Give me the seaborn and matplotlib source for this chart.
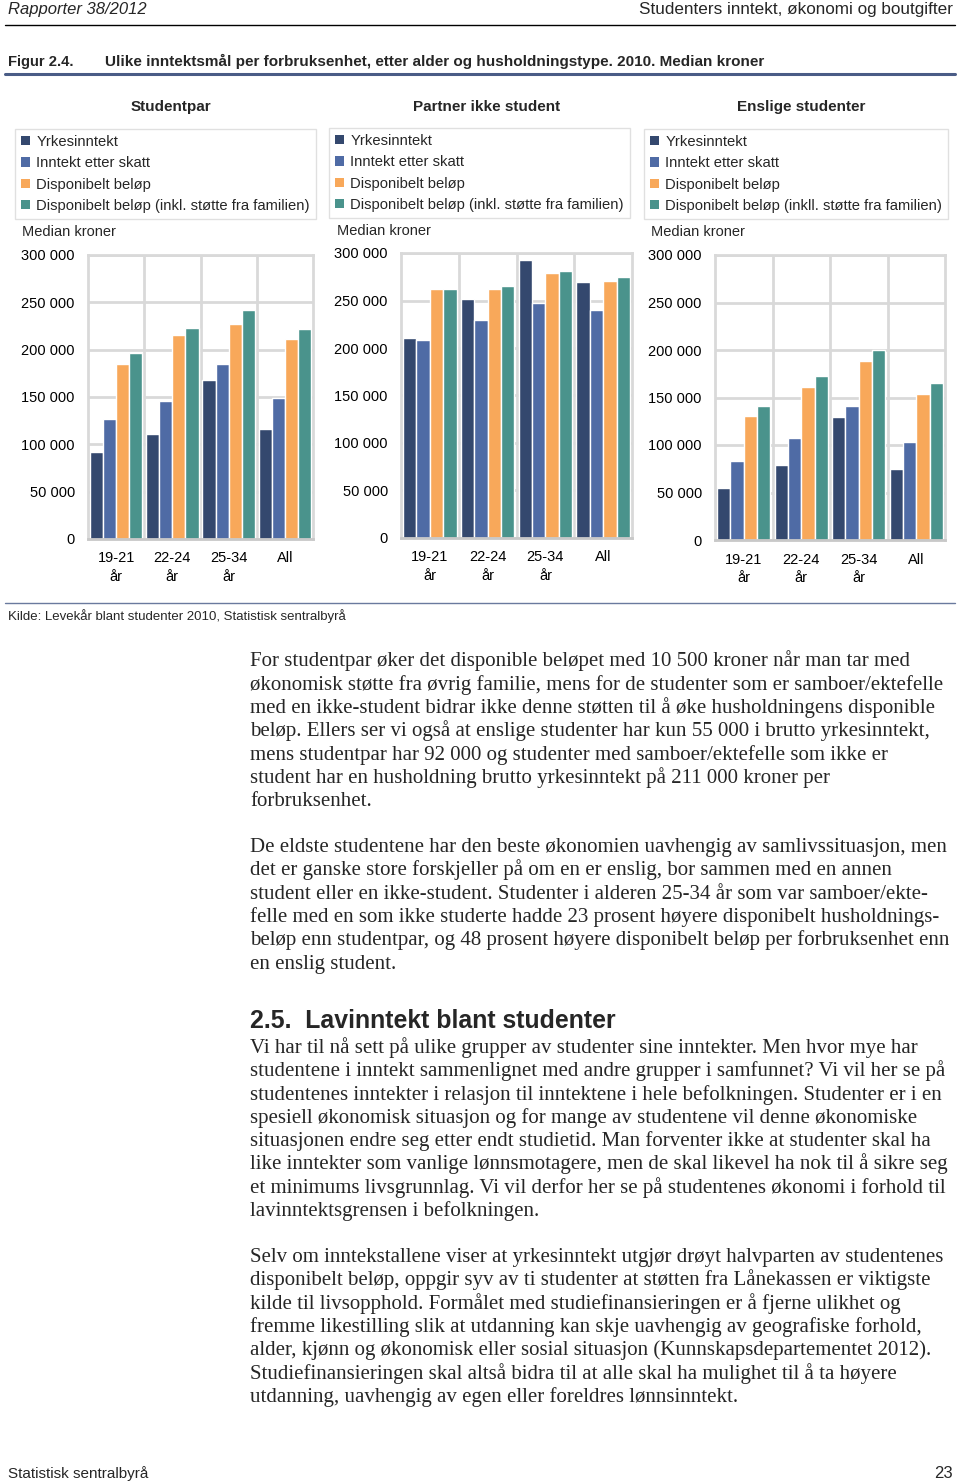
import numpy as np
import pandas as pd
import matplotlib
matplotlib.use("Agg")
import matplotlib.pyplot as plt
import seaborn as sns
from matplotlib.patches import Patch
from matplotlib.lines import Line2D
from matplotlib.ticker import FuncFormatter, FixedLocator

# ---------------- data ----------------
aldersgrupper = ["19-21\når", "22-24\når", "25-34\når", "All"]
maal = ["Yrkesinntekt", "Inntekt etter skatt", "Disponibelt beløp",
        "Disponibelt beløp (inkl. støtte fra familien)"]
maal_enslige = ["Yrkesinntekt", "Inntekt etter skatt", "Disponibelt beløp",
                "Disponibelt beløp (inkll. støtte fra familien)"]

studentpar_yrkes = [92000, 111000, 167500, 116500]
studentpar_etter_skatt = [126800, 145800, 185000, 148600]
studentpar_disp = [185000, 215500, 227000, 211000]
studentpar_disp_fam = [196800, 223000, 242000, 221500]

partner_yrkes = [211000, 252000, 292600, 269500]
partner_etter_skatt = [208400, 230000, 247700, 240000]
partner_disp = [262000, 262000, 279000, 271000]
partner_disp_fam = [262000, 265000, 281000, 275000]

enslige_yrkes = [55000, 78600, 129000, 74400]
enslige_etter_skatt = [83000, 107400, 140700, 103000]
enslige_disp = [130500, 161000, 188800, 153700]
enslige_disp_fam = [140700, 172600, 200000, 165000]

paneltitler = ["Studentpar", "Partner ikke student", "Enslige studenter"]
y_ticks = [0, 50000, 100000, 150000, 200000, 250000, 300000]

farger = ["#34486E", "#4F6BA5", "#F8A85A", "#4A938C"]

# ---------------- layout ----------------
W, H = 960, 1483
sans = ["Liberation Sans", "DejaVu Sans"]
serif = ["Liberation Serif", "DejaVu Serif"]

sns.set_theme(style="white")
plt.rcParams["font.family"] = sans

fig = plt.figure(figsize=(W / 100, H / 100), dpi=100)


def fx(x):
    return x / W


def fy(y):
    return 1 - y / H


def ax_rect(l, t, r, b):
    return [l / W, 1 - b / H, (r - l) / W, (b - t) / H]


def build_df(yrk, skatt, disp, fam, labels):
    rows = []
    for vals, m in zip([yrk, skatt, disp, fam], labels):
        for a, v in zip(aldersgrupper, vals):
            rows.append({"alder": a, "mal": m, "verdi": v})
    return pd.DataFrame(rows)


panels = [
    dict(df=build_df(studentpar_yrkes, studentpar_etter_skatt, studentpar_disp,
                     studentpar_disp_fam, maal),
         labels=maal, rect=(88, 255, 313, 539), title_x=171,
         leg=(15, 129), median=(22, 231)),
    dict(df=build_df(partner_yrkes, partner_etter_skatt, partner_disp,
                     partner_disp_fam, maal),
         labels=maal, rect=(401, 253, 632, 538), title_x=487,
         leg=(329, 128), median=(337, 230)),
    dict(df=build_df(enslige_yrkes, enslige_etter_skatt, enslige_disp,
                     enslige_disp_fam, maal_enslige),
         labels=maal_enslige, rect=(715, 255, 945, 540), title_x=801,
         leg=(644, 129), median=(651, 231)),
]

grid_c = "#D9D9D9"
fmt = FuncFormatter(lambda v, p: f"{int(v):,}".replace(",", " "))

for p, title in zip(panels, paneltitler):
    ax = fig.add_axes(ax_rect(*p["rect"]))
    sns.barplot(data=p["df"], x="alder", y="verdi", hue="mal",
                hue_order=p["labels"], order=aldersgrupper,
                palette=farger, saturation=1, width=0.93, ax=ax,
                legend=False, errorbar=None)
    ax.set_xlim(-0.5, 3.5)
    ax.set_ylim(0, 300000)
    ax.yaxis.set_major_locator(FixedLocator(y_ticks))
    ax.yaxis.set_major_formatter(fmt)
    ax.set_xticks(range(4))
    ax.set_xticklabels(aldersgrupper, fontsize=10.5, linespacing=1.45)
    ax.xaxis.set_minor_locator(FixedLocator([0.5, 1.5, 2.5]))
    ax.tick_params(axis="both", which="both", length=0, labelsize=10.5,
                   colors="#000000")
    ax.tick_params(axis="y", pad=9.5)
    ax.tick_params(axis="x", pad=9)
    ax.set_axisbelow(True)
    ax.grid(True, axis="y", which="major", color=grid_c, linewidth=2.0)
    ax.grid(True, axis="x", which="minor", color=grid_c, linewidth=2.0)
    ax.grid(False, axis="x", which="major")
    for s in ["left", "top", "right"]:
        ax.spines[s].set_visible(True)
        ax.spines[s].set_color(grid_c)
        ax.spines[s].set_linewidth(2.0)
    ax.spines["bottom"].set_color("#C8C8C8")
    ax.spines["bottom"].set_linewidth(2.0)
    ax.set_xlabel("")
    ax.set_ylabel("")
    ax.set_facecolor("white")

    # panel title
    fig.text(fx(p["title_x"]), fy(111), title, ha="center", va="baseline",
             fontsize=11, fontweight="bold")
    # legend
    handles = [Patch(facecolor=c, edgecolor="none") for c in farger]
    fig.legend(handles, p["labels"], loc="upper left",
               bbox_to_anchor=(fx(p["leg"][0]), fy(p["leg"][1])),
               frameon=True, fancybox=False, edgecolor=grid_c,
               fontsize=10.6, handlelength=0.6, handleheight=0.6,
               handletextpad=0.45, labelspacing=0.5, borderpad=0.4,
               borderaxespad=0.0)
    # y-axis unit
    fig.text(fx(p["median"][0]), fy(p["median"][1] + 5), "Median kroner",
             ha="left", va="baseline", fontsize=10.5)

# ---------------- page text ----------------
fig.text(fx(8), fy(14), "Rapporter 38/2012", ha="left", va="baseline",
         fontsize=12, style="italic")
fig.text(fx(953), fy(14), "Studenters inntekt, økonomi og boutgifter",
         ha="right", va="baseline", fontsize=12.3)
fig.add_artist(Line2D([fx(5), fx(955)], [fy(25), fy(25)], color="black",
                      linewidth=1.0))

fig.text(fx(8), fy(66), "Figur 2.4.", ha="left", va="baseline",
         fontsize=10.6, fontweight="bold")
fig.text(fx(105), fy(66),
         "Ulike inntektsmål per forbruksenhet, etter alder og husholdningstype. 2010. Median kroner",
         ha="left", va="baseline", fontsize=10.95, fontweight="bold")
fig.add_artist(Line2D([fx(5), fx(955)], [fy(74), fy(74)], color="#4A5C86",
                      linewidth=2.2))

fig.add_artist(Line2D([fx(5), fx(955)], [fy(603), fy(603)], color="#6A7A9E",
                      linewidth=1.0))
fig.text(fx(8), fy(620), "Kilde: Levekår blant studenter 2010, Statistisk sentralbyrå",
         ha="left", va="baseline", fontsize=9.5)

avsnitt = [
    (666.5, [
        "For studentpar øker det disponible beløpet med 10 500 kroner når man tar med",
        "økonomisk støtte fra øvrig familie, mens for de studenter som er samboer/ektefelle",
        "med en ikke-student bidrar ikke denne støtten til å øke husholdningens disponible",
        "beløp. Ellers ser vi også at enslige studenter har kun 55 000 i brutto yrkesinntekt,",
        "mens studentpar har 92 000 og studenter med samboer/ektefelle som ikke er",
        "student har en husholdning brutto yrkesinntekt på 211 000 kroner per",
        "forbruksenhet.",
    ]),
    (852, [
        "De eldste studentene har den beste økonomien uavhengig av samlivssituasjon, men",
        "det er ganske store forskjeller på om en er enslig, bor sammen med en annen",
        "student eller en ikke-student. Studenter i alderen 25-34 år som var samboer/ekte-",
        "felle med en som ikke studerte hadde 23 prosent høyere disponibelt husholdnings-",
        "beløp enn studentpar, og 48 prosent høyere disponibelt beløp per forbruksenhet enn",
        "en enslig student.",
    ]),
    (1053, [
        "Vi har til nå sett på ulike grupper av studenter sine inntekter. Men hvor mye har",
        "studentene i inntekt sammenlignet med andre grupper i samfunnet? Vi vil her se på",
        "studentenes inntekter i relasjon til inntektene i hele befolkningen. Studenter er i en",
        "spesiell økonomisk situasjon og for mange av studentene vil denne økonomiske",
        "situasjonen endre seg etter endt studietid. Man forventer ikke at studenter skal ha",
        "like inntekter som vanlige lønnsmotagere, men de skal likevel ha nok til å sikre seg",
        "et minimums livsgrunnlag. Vi vil derfor her se på studentenes økonomi i forhold til",
        "lavinntektsgrensen i befolkningen.",
    ]),
    (1262, [
        "Selv om inntekstallene viser at yrkesinntekt utgjør drøyt halvparten av studentenes",
        "disponibelt beløp, oppgir syv av ti studenter at støtten fra Lånekassen er viktigste",
        "kilde til livsopphold. Formålet med studiefinansieringen er å fjerne ulikhet og",
        "fremme likestilling slik at utdanning kan skje uavhengig av geografiske forhold,",
        "alder, kjønn og økonomisk eller sosial situasjon (Kunnskapsdepartementet 2012).",
        "Studiefinansieringen skal altså bidra til at alle skal ha mulighet til å ta høyere",
        "utdanning, uavhengig av egen eller foreldres lønnsinntekt.",
    ]),
]
for y0, lines in avsnitt:
    for i, line in enumerate(lines):
        fig.text(fx(250), fy(y0 + i * 23.3), line, ha="left", va="baseline",
                 fontsize=15.0, family=serif)

fig.text(fx(250), fy(1028), "2.5.  Lavinntekt blant studenter", ha="left",
         va="baseline", fontsize=17.9, fontweight="bold")

fig.text(fx(8), fy(1478), "Statistisk sentralbyrå", ha="left", va="baseline",
         fontsize=11)
fig.text(fx(953), fy(1478), "23", ha="right", va="baseline", fontsize=12)

fig.savefig("out.png", dpi=100, facecolor="white")
